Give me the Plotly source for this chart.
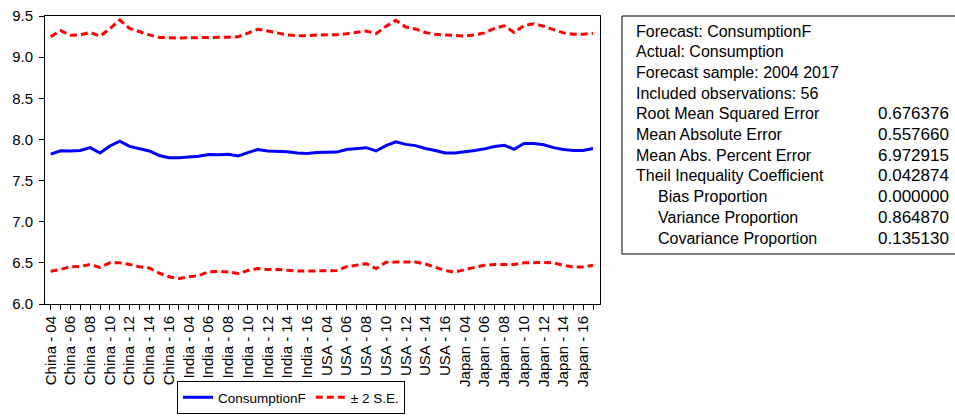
import plotly.graph_objects as go

countries = ["China", "India", "USA", "Japan"]
years = list(range(2004, 2018))
obs_labels = [f"{c} - {y % 100:02d}" for c in countries for y in years]
tick_text = [lab if (y % 2 == 0) else "" for lab, y in zip(obs_labels, years * len(countries))]

forecast = [7.822, 7.862, 7.860, 7.865, 7.900, 7.834, 7.920, 7.980, 7.915, 7.890, 7.860, 7.805, 7.777, 7.777,
            7.785, 7.795, 7.817, 7.813, 7.820, 7.800, 7.840, 7.878, 7.860, 7.855, 7.850, 7.835, 7.830, 7.840,
            7.846, 7.846, 7.878, 7.885, 7.900, 7.860, 7.925, 7.972, 7.940, 7.925, 7.890, 7.865, 7.835, 7.835,
            7.846, 7.865, 7.885, 7.915, 7.930, 7.880, 7.951, 7.950, 7.935, 7.900, 7.878, 7.865, 7.865, 7.890]

upper = [9.249, 9.322, 9.265, 9.270, 9.300, 9.255, 9.346, 9.451, 9.350, 9.310, 9.270, 9.240, 9.233, 9.233,
         9.235, 9.235, 9.240, 9.240, 9.243, 9.247, 9.295, 9.338, 9.318, 9.297, 9.270, 9.260, 9.260, 9.270,
         9.270, 9.273, 9.285, 9.300, 9.318, 9.285, 9.374, 9.447, 9.366, 9.342, 9.300, 9.277, 9.270, 9.260,
         9.257, 9.270, 9.295, 9.350, 9.380, 9.300, 9.383, 9.405, 9.375, 9.334, 9.295, 9.277, 9.277, 9.290]

lower = [6.399, 6.420, 6.453, 6.457, 6.480, 6.445, 6.500, 6.500, 6.480, 6.453, 6.437, 6.376, 6.330, 6.310,
         6.330, 6.346, 6.390, 6.395, 6.390, 6.370, 6.407, 6.430, 6.420, 6.420, 6.410, 6.400, 6.400, 6.400,
         6.407, 6.407, 6.453, 6.470, 6.490, 6.430, 6.506, 6.510, 6.510, 6.510, 6.486, 6.450, 6.407, 6.390,
         6.420, 6.445, 6.470, 6.480, 6.480, 6.480, 6.500, 6.506, 6.506, 6.500, 6.470, 6.450, 6.450, 6.470]

stat_labels = ["Forecast: ConsumptionF", "Actual: Consumption", "Forecast sample: 2004 2017",
               "Included observations: 56", "Root Mean Squared Error", "Mean Absolute Error",
               "Mean Abs. Percent Error", "Theil Inequality Coefficient", "Bias Proportion",
               "Variance Proportion", "Covariance Proportion"]
stat_values = ["", "", "", "", "0.676376", "0.557660", "6.972915", "0.042874", "0.000000",
               "0.864870", "0.135130"]
stat_indent = [False] * 8 + [True] * 3

FONT = "Liberation Sans, Arial, sans-serif"

# plot-area geometry in pixels (for positioning the side table / legend)
L, R, T, B = 45, 600, 16, 304
W, H = 955, 417


def px(x):
    return (x - L) / (R - L)


def py(y):
    return (B - y) / (B - T)


fig = go.Figure()
fig.add_trace(go.Scatter(x=obs_labels, y=forecast, mode="lines", name="ConsumptionF",
                         line=dict(color="#0000FF", width=3)))
fig.add_trace(go.Scatter(x=obs_labels, y=upper, mode="lines", name="± 2 S.E.",
                         line=dict(color="#FF0000", width=3, dash="7px,4px")))
fig.add_trace(go.Scatter(x=obs_labels, y=lower, mode="lines", name="± 2 S.E.", showlegend=False,
                         line=dict(color="#FF0000", width=3, dash="7px,4px")))

fig.update_layout(
    width=W, height=H,
    margin=dict(l=L, r=W - R, t=T, b=H - B, pad=0, autoexpand=False),
    paper_bgcolor="white", plot_bgcolor="white",
    font=dict(family=FONT, size=15, color="black"),
    showlegend=True,
    legend=dict(orientation="h", x=px(177), xanchor="left", y=py(414), yanchor="bottom",
                bordercolor="black", borderwidth=1, font=dict(size=13.5),
                bgcolor="white", tracegroupgap=0, itemwidth=30),
)

fig.update_xaxes(
    type="category", range=[-0.58, 55.71],
    tickmode="array", tickvals=obs_labels, ticktext=tick_text,
    tickangle=-90, ticks="outside", ticklen=5, tickcolor="black",
    showline=True, linecolor="black", linewidth=1, mirror=True,
    showgrid=False, zeroline=False, tickfont=dict(size=15), automargin=False,
)
fig.update_yaxes(
    range=[6.0, 9.5], tickmode="linear", tick0=6.0, dtick=0.5, tickformat=".1f",
    ticks="outside", ticklen=5, tickcolor="black",
    showline=True, linecolor="black", linewidth=1, mirror=True,
    showgrid=False, zeroline=False, tickfont=dict(size=15), automargin=False,
    ticklabelstandoff=3,
)

# statistics box
box_top, box_bottom, box_left, box_right = 16, 254, 622, 960
fig.add_shape(type="rect", xref="paper", yref="paper",
              x0=px(box_left), x1=px(box_right), y0=py(box_bottom), y1=py(box_top),
              line=dict(color="black", width=1), fillcolor="white", layer="below")

row0, row_gap = 31, 20.7
for i, (lab, val, ind) in enumerate(zip(stat_labels, stat_values, stat_indent)):
    yc = row0 + i * row_gap
    fig.add_annotation(xref="paper", yref="paper", x=px(656 if ind else 634), y=py(yc),
                       text=lab, showarrow=False, xanchor="left", yanchor="middle",
                       font=dict(family=FONT, size=16, color="black"))
    if val:
        fig.add_annotation(xref="paper", yref="paper", x=px(951), y=py(yc),
                           text=val, showarrow=False, xanchor="right", yanchor="middle",
                           font=dict(family=FONT, size=17, color="black"))

fig.write_html("out.html")
